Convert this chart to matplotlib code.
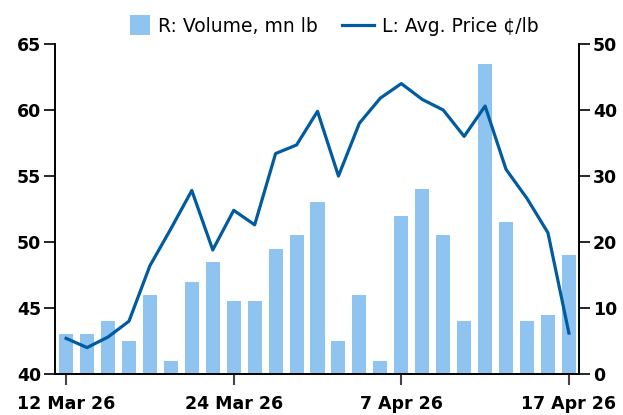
import matplotlib
matplotlib.use("Agg")
import matplotlib.pyplot as plt
from matplotlib.legend_handler import HandlerPatch
from matplotlib.patches import Rectangle
import numpy as np

# business days, 12 Mar 26 .. 17 Apr 26 (Easter holidays skipped)
dates = ["12 Mar", "13 Mar", "16 Mar", "17 Mar", "18 Mar", "19 Mar", "20 Mar",
         "23 Mar", "24 Mar", "25 Mar", "26 Mar", "27 Mar", "30 Mar", "31 Mar",
         "1 Apr", "2 Apr", "7 Apr", "8 Apr", "9 Apr", "10 Apr", "13 Apr",
         "14 Apr", "15 Apr", "16 Apr", "17 Apr"]
volume = [6, 6, 8, 5, 12, 2, 14, 17, 11, 11, 19, 21, 26, 5, 12, 2, 24, 28,
          21, 8, 47, 23, 8, 9, 18]
price = [42.7, 42.0, 42.8, 44.0, 48.2, 51.0, 53.9, 49.4, 52.4, 51.3, 56.7,
         57.35, 59.9, 55.0, 59.0, 60.9, 62.0, 60.8, 60.0, 58.0, 60.3, 55.5,
         53.3, 50.7, 43.1]
tick_labels = {"12 Mar": "12 Mar 26", "24 Mar": "24 Mar 26",
               "7 Apr": "7 Apr 26", "17 Apr": "17 Apr 26"}

bar_color = "#8EC4EF"
line_color = "#005BA1"


class SquareHandler(HandlerPatch):
    def create_artists(self, legend, orig_handle, xdescent, ydescent,
                       width, height, fontsize, trans):
        side = fontsize * 1.05
        x0 = width - side
        y0 = (height - side) / 2 - ydescent
        p = Rectangle((x0, y0), side, side, facecolor=orig_handle.get_facecolor(),
                      edgecolor="none", transform=trans)
        return [p]


fig = plt.figure(figsize=(6.23, 4.15), dpi=100)
ax = fig.add_axes([0.0883, 0.0988, 0.8410, 0.7952])
ax2 = ax.twinx()

x = np.arange(len(dates))
bars = ax2.bar(x, volume, width=0.67, color=bar_color, zorder=1)
line, = ax.plot(x, price, color=line_color, lw=2.3, zorder=3)
ax.set_zorder(ax2.get_zorder() + 1)
ax.patch.set_visible(False)

ax.set_xlim(-0.53, 24.48)
ax.set_ylim(40, 65)
ax.set_yticks([40, 45, 50, 55, 60, 65])
ax2.set_ylim(0, 50)
ax2.set_yticks([0, 10, 20, 30, 40, 50])

pos = [dates.index(d) for d in tick_labels]
ax.set_xticks(pos)
ax.set_xticklabels(list(tick_labels.values()))

for a in (ax, ax2):
    a.spines["top"].set_visible(False)
    for s in a.spines.values():
        s.set_linewidth(1.2)
    a.tick_params(axis="y", length=8, width=1.2, labelsize=12.5, pad=2)
    for lab in a.get_yticklabels():
        lab.set_fontweight("bold")
ax.tick_params(axis="x", length=8, width=1.5, color="#444444",
               labelsize=12.5, pad=7)
for lab in ax.get_xticklabels():
    lab.set_fontweight("bold")

fig.legend([bars[0], line], ["R: Volume, mn lb", "L: Avg. Price \u00a2/lb"],
           loc="upper center", bbox_to_anchor=(0.527, 1.0), ncol=2,
           frameon=False, prop={"size": 13.5}, handlelength=1.7,
           columnspacing=1.3, handletextpad=0.45,
           handler_map={Rectangle: SquareHandler()})

fig.savefig("out.png", dpi=100)
